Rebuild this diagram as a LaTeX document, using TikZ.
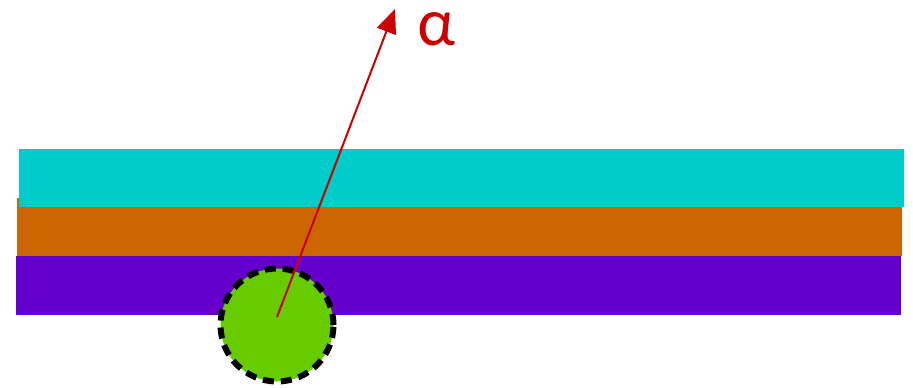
\documentclass[tikz,border=0pt]{standalone}
\usepackage{fontspec}
\newfontfamily\alphafont{Lato}
\usetikzlibrary{arrows.meta}
\definecolor{cyanbar}{HTML}{00CCCC}
\definecolor{orangebar}{HTML}{CC6600}
\definecolor{purplebar}{HTML}{6600CC}
\definecolor{ballgreen}{HTML}{66CC00}
\definecolor{arrowred}{HTML}{CC0000}
\begin{document}
\begin{tikzpicture}[x=1pt,y=-1pt,
  ball/.style={circle,fill=ballgreen,draw=black,line width=6pt,dash pattern=on 11pt off 7pt,minimum size=113pt,inner sep=0pt},
  ray/.style={draw=arrowred,line width=2pt,-{Triangle[length=24pt,width=20pt]}},
  lbl/.style={text=arrowred,font=\alphafont\fontsize{64}{70}\selectfont,inner sep=0pt}]
\useasboundingbox (0,0) rectangle (913,388);
\fill[orangebar] (17,198) rectangle (902,256);
\fill[cyanbar] (19,149) rectangle (904,207);
\fill[purplebar] (16,256) rectangle (901,315);
\node[ball] (ball) at (277,325) {};
\coordinate (tip) at (395,9);
\draw[ray] ([yshift=8pt]ball.center) -- (tip);
\node[lbl] (alpha) at (436,29) {α};
\end{tikzpicture}
\end{document}
